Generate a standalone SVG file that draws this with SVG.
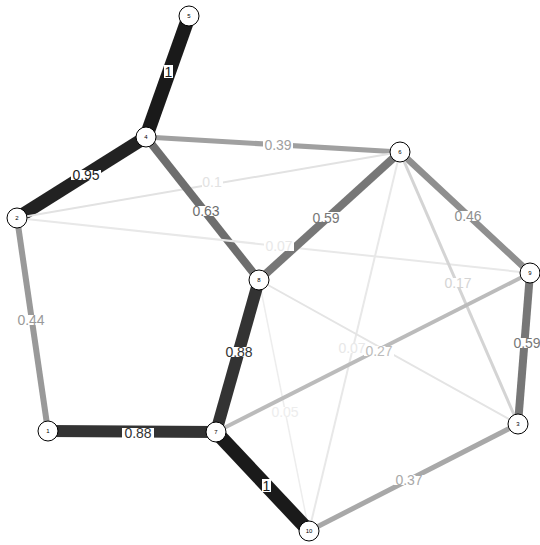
<svg xmlns="http://www.w3.org/2000/svg" width="540" height="545" viewBox="0 0 540 545">
<style>
.e{fill:none;stroke-linecap:butt}
.lb{fill:#fff}
.lt{font-family:"Liberation Sans",Arial,sans-serif;font-size:14px;text-anchor:middle;dominant-baseline:central}
.n circle{fill:#fff;stroke:#000;stroke-width:1}
.n text{font-family:"Liberation Sans",Arial,sans-serif;font-size:6px;text-anchor:middle;dominant-baseline:central;fill:#000}
</style>
<rect width="540" height="545" fill="#fff"/>
<g id="connectors">
<line class="e" x1="189" y1="16" x2="146" y2="137" stroke="#1a1a1a" stroke-width="14"/>
<line class="e" x1="146" y1="137" x2="17" y2="218" stroke="#222" stroke-width="13"/>
<line class="e" x1="146" y1="137" x2="400" y2="152" stroke="#a0a0a0" stroke-width="5"/>
<line class="e" x1="17" y1="218" x2="400" y2="152" stroke="#e2e2e2" stroke-width="2"/>
<line class="e" x1="146" y1="137" x2="259" y2="280" stroke="#6e6e6e" stroke-width="8"/>
<line class="e" x1="17" y1="218" x2="530" y2="273" stroke="#e8e8e8" stroke-width="2"/>
<line class="e" x1="17" y1="218" x2="48" y2="431" stroke="#999" stroke-width="6"/>
<line class="e" x1="400" y1="152" x2="259" y2="280" stroke="#777" stroke-width="8"/>
<line class="e" x1="400" y1="152" x2="530" y2="273" stroke="#8f8f8f" stroke-width="6.5"/>
<line class="e" x1="400" y1="152" x2="518" y2="424" stroke="#d4d4d4" stroke-width="3"/>
<line class="e" x1="400" y1="152" x2="309" y2="531" stroke="#e8e8e8" stroke-width="2"/>
<line class="e" x1="259" y1="280" x2="518" y2="424" stroke="#e4e4e4" stroke-width="2"/>
<line class="e" x1="259" y1="280" x2="309" y2="531" stroke="#ededed" stroke-width="1.5"/>
<line class="e" x1="216" y1="432" x2="530" y2="273" stroke="#bbb" stroke-width="4"/>
<line class="e" x1="530" y1="273" x2="518" y2="424" stroke="#777" stroke-width="8"/>
<line class="e" x1="259" y1="280" x2="216" y2="432" stroke="#333" stroke-width="12"/>
<line class="e" x1="48" y1="431" x2="216" y2="432" stroke="#333" stroke-width="12"/>
<line class="e" x1="216" y1="432" x2="309" y2="531" stroke="#1a1a1a" stroke-width="14"/>
<line class="e" x1="309" y1="531" x2="518" y2="424" stroke="#a8a8a8" stroke-width="5"/>
</g>
<g id="labels">
<rect class="lb" x="164" y="65" width="9" height="13"/><text class="lt" x="168.5" y="72" fill="#1a1a1a">1</text>
<rect class="lb" x="71" y="170" width="30" height="10"/><text class="lt" x="86" y="175" fill="#222">0.95</text>
<rect class="lb" x="263" y="140" width="30" height="10"/><text class="lt" x="278" y="145" fill="#a0a0a0">0.39</text>
<rect class="lb" x="202" y="178" width="21" height="10"/><text class="lt" x="212" y="182" fill="#e2e2e2">0.1</text>
<rect class="lb" x="191" y="206" width="30" height="10"/><text class="lt" x="206" y="211" fill="#6e6e6e">0.63</text>
<rect class="lb" x="311" y="212" width="30" height="10"/><text class="lt" x="326" y="218" fill="#777">0.59</text>
<rect class="lb" x="453" y="211" width="30" height="10"/><text class="lt" x="468" y="216" fill="#8f8f8f">0.46</text>
<rect class="lb" x="264" y="241" width="30" height="10"/><text class="lt" x="279" y="246" fill="#e8e8e8">0.07</text>
<rect class="lb" x="443" y="278" width="30" height="10"/><text class="lt" x="458" y="283" fill="#d4d4d4">0.17</text>
<rect class="lb" x="16" y="315" width="30" height="10"/><text class="lt" x="31" y="320" fill="#999">0.44</text>
<rect class="lb" x="224" y="347" width="30" height="10"/><text class="lt" x="239" y="352" fill="#333">0.88</text>
<rect class="lb" x="338" y="343" width="30" height="10"/><text class="lt" x="352" y="348" fill="#e8e8e8">0.07</text>
<rect class="lb" x="364" y="346" width="30" height="10"/><text class="lt" x="379" y="351" fill="#bbb">0.27</text>
<rect class="lb" x="513" y="338" width="30" height="10"/><text class="lt" x="527" y="343" fill="#777">0.59</text>
<rect class="lb" x="270" y="407" width="30" height="10"/><text class="lt" x="285" y="412" fill="#ededed">0.05</text>
<rect class="lb" x="122" y="428" width="32" height="10"/><text class="lt" x="138" y="433" fill="#333">0.88</text>
<rect class="lb" x="262" y="479" width="9" height="13"/><text class="lt" x="266.5" y="486" fill="#1a1a1a">1</text>
<rect class="lb" x="394" y="475" width="30" height="10"/><text class="lt" x="409" y="480" fill="#a8a8a8">0.37</text>
</g>
<g id="node5" class="n"><circle cx="189" cy="16" r="10"/><text x="189" y="16">5</text></g>
<g id="node4" class="n"><circle cx="146" cy="137" r="10"/><text x="146" y="137">4</text></g>
<g id="node6" class="n"><circle cx="400" cy="152" r="10"/><text x="400" y="152">6</text></g>
<g id="node2" class="n"><circle cx="17" cy="218" r="10"/><text x="17" y="218">2</text></g>
<g id="node9" class="n"><circle cx="530" cy="273" r="10"/><text x="530" y="273">9</text></g>
<g id="node8" class="n"><circle cx="259" cy="280" r="10"/><text x="259" y="280">8</text></g>
<g id="node1" class="n"><circle cx="48" cy="431" r="10"/><text x="48" y="431">1</text></g>
<g id="node7" class="n"><circle cx="216" cy="432" r="10"/><text x="216" y="432">7</text></g>
<g id="node3" class="n"><circle cx="518" cy="424" r="10"/><text x="518" y="424">3</text></g>
<g id="node10" class="n"><circle cx="309" cy="531" r="10"/><text x="309" y="531">10</text></g>
</svg>
